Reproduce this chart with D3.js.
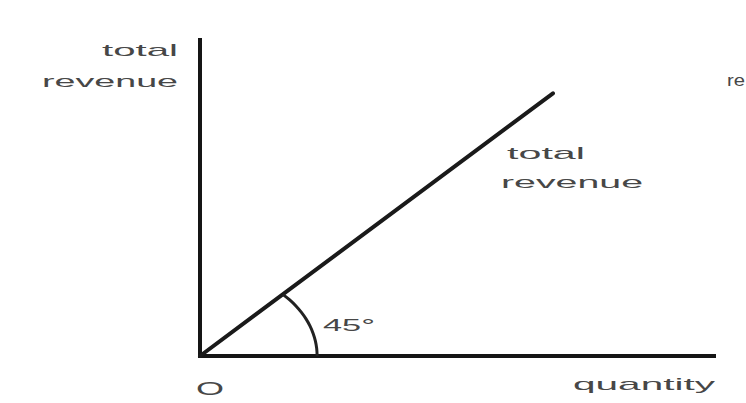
<!DOCTYPE html>
<html>
<head>
<meta charset="utf-8">
<script src="https://cdn.jsdelivr.net/npm/d3@7"></script>
<style>
  html, body { margin: 0; padding: 0; background: #fff; }
  svg { display: block; }
  text { font-family: "Liberation Sans", Arial, sans-serif; fill: #474747; }
</style>
</head>
<body>
<svg id="chart" width="746" height="403"></svg>
<script>
// Total revenue rises one-for-one with quantity (a 45° line from the origin)
const quantity = [0, 6.84];
const totalRevenue = [0, 6.84];
const angleDegrees = [0, 5, 10, 15, 20, 25, 30, 35, 40, 45];
const arcRadius = 2.27;
const axisMax = { quantity: 10, revenue: 8.28 };

const svg = d3.select("#chart");

const x = d3.scaleLinear().domain([0, axisMax.quantity]).range([200, 716]);
const y = d3.scaleLinear().domain([0, axisMax.revenue]).range([356, 38]);

// axes drawn as bare lines
const axisLine = d3.line().x(d => x(d[0])).y(d => y(d[1]));
svg.append("path")
  .attr("d", axisLine([[0, axisMax.revenue], [0, 0], [axisMax.quantity, 0]]))
  .attr("fill", "none").attr("stroke", "#151515").attr("stroke-width", 4)
  .attr("stroke-linejoin", "miter");

// total revenue line
const pts = quantity.map((q, i) => [q, totalRevenue[i]]);
svg.append("path")
  .attr("d", axisLine(pts))
  .attr("fill", "none").attr("stroke", "#1a1a1a").attr("stroke-width", 4)
  .attr("stroke-linecap", "round");

// angle arc between the quantity axis and the revenue line
const arcPts = angleDegrees.map(a => {
  const r = a * Math.PI / 180;
  return [arcRadius * Math.cos(r), arcRadius * Math.sin(r)];
});
svg.append("path")
  .attr("d", d3.line().curve(d3.curveCatmullRom).x(d => x(d[0])).y(d => y(d[1]))(arcPts))
  .attr("fill", "none").attr("stroke", "#222").attr("stroke-width", 3);

// labels
const labels = [
  { t: "total", x: 102, y: 56, w: 76, s: 17 },
  { t: "revenue", x: 42, y: 87, w: 136, s: 17 },
  { t: "total", x: 507, y: 159, w: 78, s: 17 },
  { t: "revenue", x: 501, y: 188, w: 142, s: 17 },
  { t: "quantity", x: 573, y: 390, w: 142, s: 17 },
  { t: "45°", x: 323, y: 331, w: 52, s: 17 },
  { t: "O", x: 196, y: 395, w: 28, s: 19 },
  { t: "re", x: 727, y: 86, w: 18, s: 17 }
];
svg.selectAll("text.lbl").data(labels).join("text")
  .attr("class", "lbl")
  .attr("x", d => d.x).attr("y", d => d.y)
  .attr("font-size", d => d.s)
  .attr("textLength", d => d.w)
  .attr("lengthAdjust", "spacingAndGlyphs")
  .text(d => d.t);
</script>
</body>
</html>
